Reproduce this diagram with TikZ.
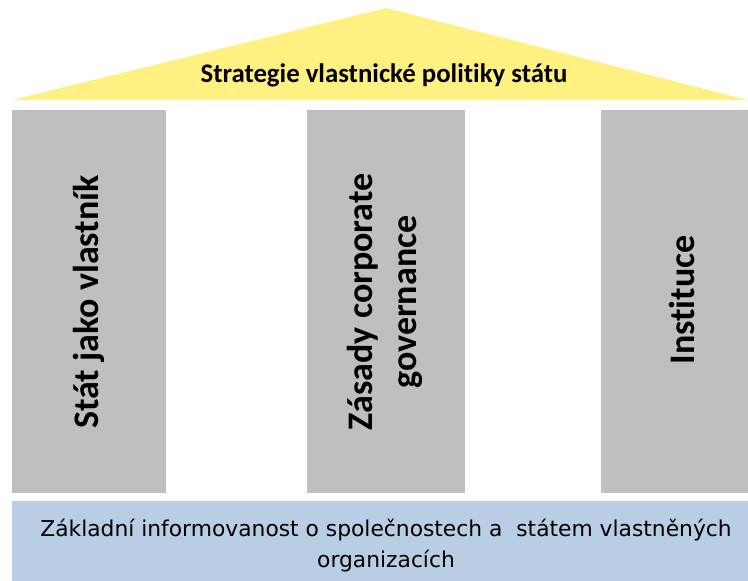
\documentclass[tikz,border=0pt]{standalone}
\usepackage{fontspec}
\setmainfont[Ligatures=NoCommon]{Carlito}
\newfontfamily\basefont{DejaVu Sans}
\definecolor{roofc}{RGB}{255,240,130}
\definecolor{pillarc}{RGB}{191,191,191}
\definecolor{basec}{RGB}{185,205,229}
\begin{document}
\begin{tikzpicture}[x=1pt,y=-1pt,
  pillartext/.style={rotate=90,align=center,inner sep=0pt,font=\bfseries\fontsize{36}{44}\selectfont},
  rooftext/.style={inner sep=0pt,font=\bfseries\fontsize{26.8}{32}\selectfont},
  basetext/.style={inner sep=0pt,align=center,font=\basefont\fontsize{21.8}{31}\selectfont}]
\useasboundingbox (0,0) rectangle (748,581);
% roof
\fill[roofc] (12,100) -- (386,8) -- (748,100) -- cycle;
\node[rooftext,anchor=base] (roof) at (384,82) {Strategie vlastnické polit\kern0pt iky státu};
% pillars
\fill[pillarc] (12,110) rectangle (166,493);
\fill[pillarc] (307,110) rectangle (465,493);
\fill[pillarc] (601,110) rectangle (748,493);
\node[pillartext] (p1) at (89,302) {Stát jako vlastník};
\node[pillartext] (p2) at (385,302) {Zásady corporate\\governance};
\node[pillartext] (p3) at (682,300) {Inst\kern0pt ituce};
% base
\fill[basec] (12,501) rectangle (748,581);
\node[basetext] (base) at (386,546) {Základní informovanost o společnostech a\ \ státem vlastněných\\organizacích};
\end{tikzpicture}
\end{document}
